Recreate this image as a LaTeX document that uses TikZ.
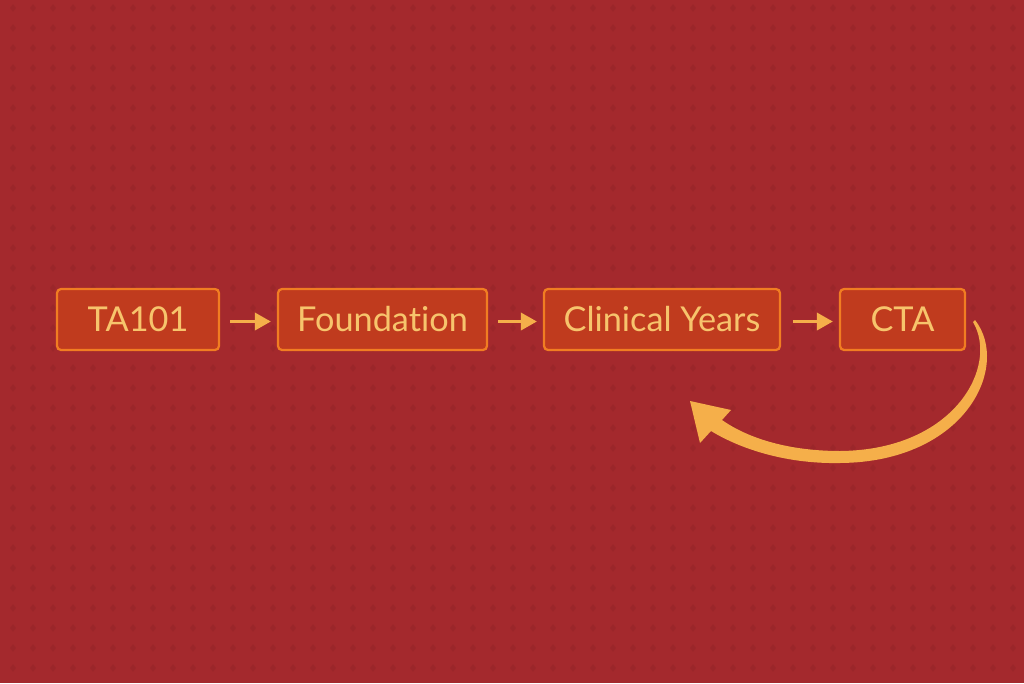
\documentclass[tikz,border=0pt]{standalone}
\usepackage{fontspec}
\setmainfont[Ligatures={NoCommon,NoDiscretionary,NoRare}]{Lato}
\usetikzlibrary{arrows.meta}
\definecolor{bgred}{HTML}{A4292D}
\definecolor{boxfill}{HTML}{C03B1E}
\definecolor{boxline}{HTML}{F17D22}
\definecolor{txtcol}{HTML}{F7C46C}
\definecolor{arrcol}{HTML}{F5AF4A}
\tikzset{
  stagebox/.style={draw=boxline, line width=0.045cm, fill=boxfill, rounded corners=0.08cm,
    minimum height=1.22cm, inner sep=0pt, text=txtcol, font=\fontsize{19.5}{23}\selectfont},
  flowarrow/.style={draw=arrcol, line width=0.07cm, -{Triangle[length=0.32cm,width=0.34cm]}, shorten >=0.02cm}
}
\begin{document}
\begin{tikzpicture}[x=0.02cm,y=-0.02cm]
\fill[bgred] (0,0) rectangle (1024,683);
\useasboundingbox (0,0) rectangle (1024,683);
% faint texture
\foreach \i in {0,...,50}{
  \foreach \j in {0,...,34}{
    \fill[black,opacity=0.05] (\i*20+10,\j*20+8) -- ++(3,-4) -- ++(3,4) -- ++(-3,4) -- cycle;
  }
}
\node[stagebox, minimum width=3.24cm] (ta) at (138,319.5) {\raisebox{-1pt}{TA101}};
\node[stagebox, minimum width=4.18cm] (fd) at (382.5,319.5) {\raisebox{-1pt}{Foundation}};
\node[stagebox, minimum width=4.72cm] (cy) at (662,319.5) {\raisebox{-1pt}{Clinical Years}};
\node[stagebox, minimum width=2.5cm] (cta) at (902.5,319.5) {\raisebox{-1pt}{CTA}};
\draw[flowarrow] ([xshift=0.2cm,yshift=-0.04cm]ta.east) -- ([xshift=-0.1cm,yshift=-0.04cm]fd.west);
\draw[flowarrow] ([xshift=0.2cm,yshift=-0.04cm]fd.east) -- ([xshift=-0.1cm,yshift=-0.04cm]cy.west);
\draw[flowarrow] ([xshift=0.24cm,yshift=-0.04cm]cy.east) -- ([xshift=-0.1cm,yshift=-0.04cm]cta.west);
% tapered curved return arrow
\coordinate (loopstart) at (975,320);
\coordinate (looptip) at (690,401);
\fill[arrcol] (loopstart) .. controls (1011,366) and (966,462) .. (840,463)
   .. controls (790,464) and (744,451) .. (711,431)
   -- (700,443) -- (looptip) -- (731,410) -- (722,420)
   .. controls (749,439) and (790,451) .. (840,451)
   .. controls (955,450) and (999,366) .. (973,322) -- cycle;
\end{tikzpicture}
\end{document}
